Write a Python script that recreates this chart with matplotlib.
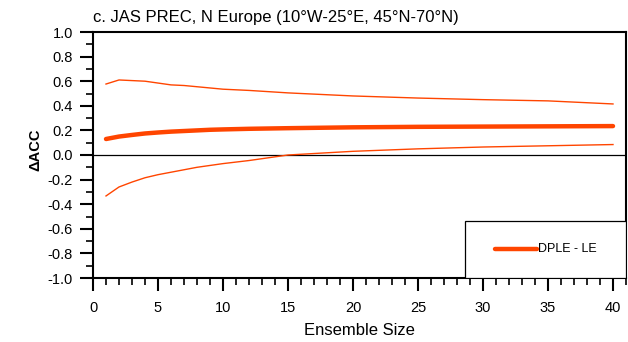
import matplotlib
matplotlib.use("Agg")
import matplotlib.pyplot as plt
from matplotlib.ticker import MultipleLocator

plt.rcParams.update({
    "font.family": ["Liberation Sans", "DejaVu Sans"],
})

# Ensemble size and DPLE - LE skill difference (mean with upper/lower bounds)
ens_size = [1, 2, 3, 4, 5, 6, 7, 8, 9, 10, 12, 15, 20, 25, 30, 35, 40]
dacc_mean = [0.13, 0.15, 0.163, 0.175, 0.183, 0.19, 0.195, 0.2, 0.205, 0.208,
             0.213, 0.218, 0.225, 0.229, 0.231, 0.233, 0.235]
dacc_upper = [0.577, 0.61, 0.605, 0.6, 0.585, 0.57, 0.565, 0.555, 0.545, 0.535,
              0.525, 0.505, 0.48, 0.463, 0.45, 0.44, 0.415]
dacc_lower = [-0.333, -0.26, -0.22, -0.185, -0.16, -0.14, -0.12, -0.1, -0.085,
              -0.07, -0.045, 0.0, 0.03, 0.05, 0.065, 0.075, 0.085]

LINE_COLOR = "#FF4500"

fig = plt.figure(figsize=(6.28, 3.42), dpi=100)
ax = fig.add_axes([93 / 628, (342 - 278) / 342, (626 - 93) / 628, (278 - 32) / 342])

ax.axhline(0.0, color="black", linewidth=0.9, zorder=1)
ax.plot(ens_size, dacc_upper, color=LINE_COLOR, linewidth=1.0, zorder=2)
ax.plot(ens_size, dacc_lower, color=LINE_COLOR, linewidth=1.0, zorder=2)
ax.plot(ens_size, dacc_mean, color=LINE_COLOR, linewidth=3.2,
        solid_capstyle="round", zorder=3)

ax.set_xlim(0, 41)
ax.set_ylim(-1.0, 1.0)
ax.xaxis.set_major_locator(MultipleLocator(5))
ax.xaxis.set_minor_locator(MultipleLocator(1))
ax.yaxis.set_major_locator(MultipleLocator(0.2))
ax.yaxis.set_minor_locator(MultipleLocator(0.1))
ax.yaxis.set_major_formatter(lambda v, p: f"{v:.1f}")

ax.tick_params(which="major", direction="out", length=9.5, width=1.5,
               labelsize=10.5)
ax.tick_params(axis="x", which="major", pad=7)
ax.tick_params(axis="y", which="major", pad=5)
ax.tick_params(which="minor", direction="out", length=5, width=1.2)
for spine in ax.spines.values():
    spine.set_linewidth(1.5)

ax.set_xlabel("Ensemble Size", fontsize=12, labelpad=6)
ax.set_ylabel("ΔACC", fontsize=10.5, fontweight="bold")
ax.yaxis.set_label_coords(-0.095, 0.52)
ax.text(0, 1.03, "c. JAS PREC, N Europe (10°W-25°E, 45°N-70°N)",
        transform=ax.transAxes, fontsize=12, ha="left", va="bottom")

# Legend box in the lower-right corner
lx0, lx1 = (465 - 93) / 533, 1.0
ly0, ly1 = 0.0, (278 - 221) / 246
ax.add_patch(plt.Rectangle((lx0, ly0), lx1 - lx0, ly1 - ly0, transform=ax.transAxes,
                           facecolor="white", edgecolor="black", linewidth=0.9,
                           zorder=4))
ly = (278 - 249) / 246
ax.plot([(495 - 93) / 533, (537 - 93) / 533], [ly, ly], transform=ax.transAxes,
        color=LINE_COLOR, linewidth=3.2, solid_capstyle="round", zorder=5)
ax.text((538 - 93) / 533, ly, "DPLE - LE", transform=ax.transAxes,
        fontsize=9, ha="left", va="center", zorder=5)

fig.savefig("out.png", dpi=100)
